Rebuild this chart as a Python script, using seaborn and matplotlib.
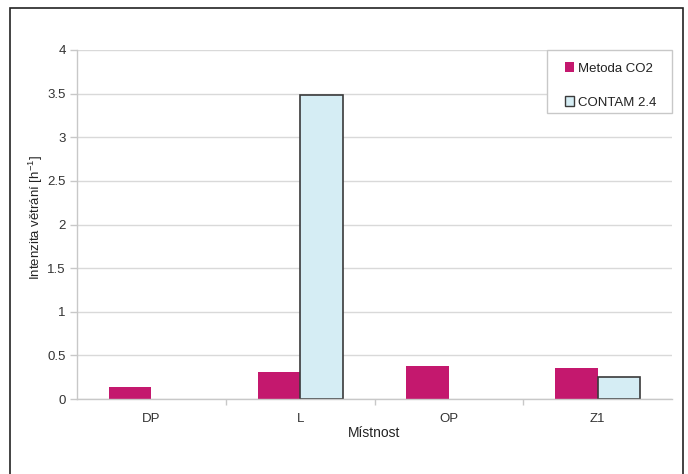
import matplotlib
matplotlib.use("Agg")
import matplotlib.pyplot as plt
import seaborn as sns
import pandas as pd
from matplotlib.patches import Rectangle

rooms = ["DP", "L", "OP", "Z1"]
metoda_co2 = [0.14, 0.31, 0.38, 0.36]
contam = [0.0, 3.48, 0.0, 0.25]
series_names = ["Metoda CO2", "CONTAM 2.4"]
y_ticks = [0, 0.5, 1, 1.5, 2, 2.5, 3, 3.5, 4]
y_tick_labels = ["0", "0.5", "1", "1.5", "2", "2.5", "3", "3.5", "4"]

df = pd.DataFrame({
    "Místnost": rooms * 2,
    "value": metoda_co2 + contam,
    "series": [series_names[0]] * len(rooms) + [series_names[1]] * len(rooms),
})

sns.set_theme(style="white")
plt.rcParams["font.family"] = ["Liberation Sans", "DejaVu Sans"]

W, H = 688, 474
fig = plt.figure(figsize=(W / 100, H / 100), dpi=100)
ax = fig.add_axes([77 / W, 1 - 399 / H, (672 - 77) / W, (399 - 50) / H])

palette = {series_names[0]: "#C4186E", series_names[1]: "#D5EDF4"}
sns.barplot(data=df, x="Místnost", y="value", hue="series", palette=palette,
            width=0.57, saturation=1, ax=ax, legend=False)

# first hue level: plain magenta bars; second: outlined light bars
n = len(rooms)
for i, bar in enumerate(ax.patches[:2 * n]):
    if i < n:
        bar.set_edgecolor("none")
    elif bar.get_height() > 0:
        bar.set_edgecolor("#3a3a3a")
        bar.set_linewidth(1.2)
    else:
        bar.set_visible(False)

ax.set_ylim(0, 4)
ax.set_xlim(-0.5, len(rooms) - 0.5)
ax.set_yticks(y_ticks)
ax.set_yticklabels(y_tick_labels)
ax.yaxis.grid(True, color="#d9d9d9", linewidth=1)
ax.set_axisbelow(True)

for side in ["top", "right"]:
    ax.spines[side].set_visible(False)
for side in ["left", "bottom"]:
    ax.spines[side].set_color("#c8c8c8")
    ax.spines[side].set_linewidth(1)

ax.tick_params(axis="y", left=True, length=5, width=1, color="#c8c8c8",
               labelsize=9.5, labelcolor="#333333", pad=3)
ax.tick_params(axis="x", bottom=False, labelsize=9.5, labelcolor="#333333", pad=4)
# minor ticks between categories on the x axis
ax.set_xticks([i + 0.5 for i in range(len(rooms) - 1)], minor=True)
ax.tick_params(axis="x", which="minor", bottom=True, length=4, width=1, color="#c8c8c8")

ax.set_xlabel("Místnost", fontsize=10, color="#222222", labelpad=1)
ax.set_ylabel(r"Intenzita větrání [h$^{\mathregular{-1}}$]", fontsize=9.5, color="#222222")
ax.yaxis.set_label_coords(-0.054, 0.52)

# legend box with its own frame
box = (547 / W, 1 - 113 / H, (672 - 547) / W, (113 - 50) / H)
fig.patches.append(Rectangle(box[:2], box[2], box[3], transform=fig.transFigure,
                             fill=True, facecolor="white", edgecolor="#c8c8c8",
                             linewidth=1, zorder=5))
handles = [Rectangle((0, 0), 1, 1, facecolor=palette[series_names[0]], edgecolor="none"),
           Rectangle((0, 0), 1, 1, facecolor=palette[series_names[1]], edgecolor="#3a3a3a", linewidth=1)]
leg = fig.legend(handles, series_names, loc="center",
                 bbox_to_anchor=(box[0] + box[2] / 2 + 1 / W, box[1] + box[3] / 2 - 4 / H),
                 bbox_transform=fig.transFigure,
                 frameon=False, fontsize=9.5, handlelength=0.7, handleheight=0.7,
                 handletextpad=0.3, labelspacing=1.65, borderpad=0, borderaxespad=0)
leg.set_zorder(6)
for t in leg.get_texts():
    t.set_color("#222222")

# outer chart border
fig.patches.append(Rectangle((10 / W, -0.05), (683 - 10) / W, 1 - 8 / H + 0.05,
                             transform=fig.transFigure, fill=False,
                             edgecolor="#222222", linewidth=1.2))

fig.savefig("out.png", dpi=100, facecolor="white")
